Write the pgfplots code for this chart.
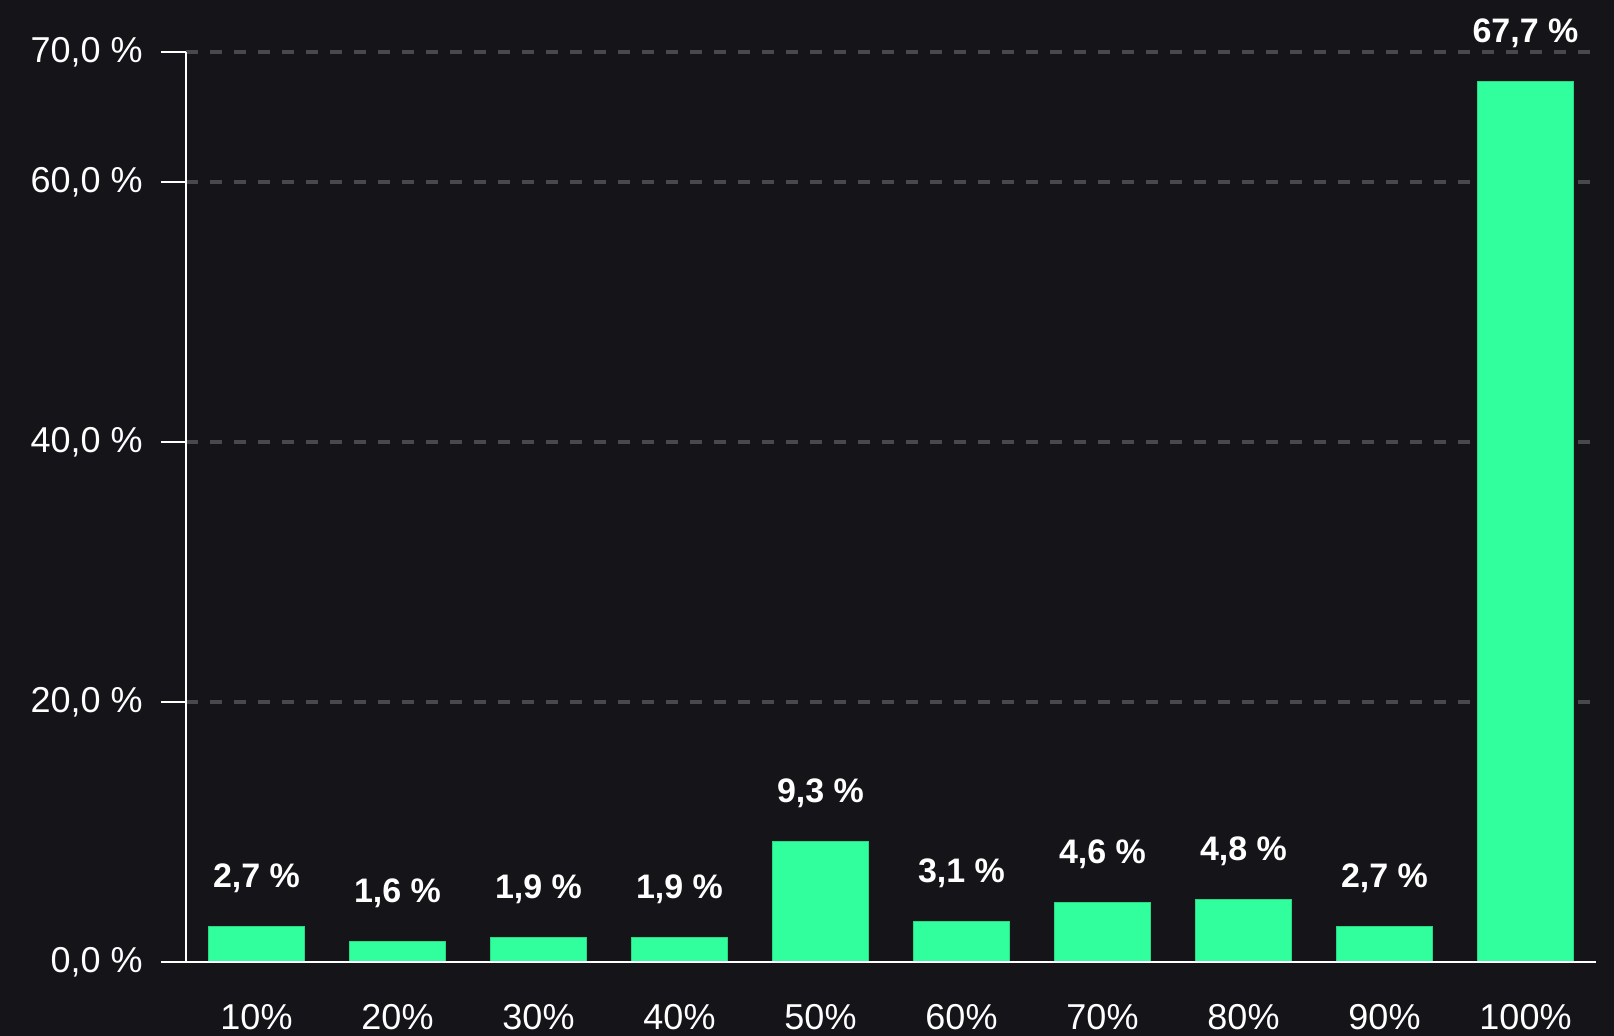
\documentclass[border=0pt]{standalone}
\usepackage{fontspec}
\setmainfont{Liberation Sans}
\usepackage{pgfplots}
\pgfplotsset{compat=1.18}
\definecolor{bg}{HTML}{141419}
\definecolor{barc}{HTML}{31FF9E}
\definecolor{gridc}{HTML}{48484E}

\begin{document}
\begin{tikzpicture}[x=1pt,y=1pt]
% background, same proportions as the reference (1 px = 0.5 pt)
\path[use as bounding box, fill=bg] (-93,-37) rectangle (714,481);
\begin{axis}[
  at={(0,0)}, anchor=south west,
  width=705pt, height=455pt, scale only axis,
  xmin=-0.5, xmax=9.5, ymin=0, ymax=70,
  clip=false,
  axis lines*=left,
  axis line style={white, line width=1pt},
  ybar, bar width=48pt,
  xtick={0,...,9},
  xticklabels={10\%,20\%,30\%,40\%,50\%,60\%,70\%,80\%,90\%,100\%},
  x tick style={draw=none},
  xticklabel style={anchor=base, yshift=-21.5pt, text=white, font=\fontsize{18}{20}\selectfont},
  ytick={20,40,60,70},
  yticklabel={\pgfmathprintnumber[fixed,fixed zerofill,precision=1,use comma,assume math mode=true]{\tick}~\%},
  extra y ticks={0},
  extra y tick style={grid=none, yticklabel={0,0~\%}},
  yticklabel style={anchor=east, inner sep=0pt, xshift=-9pt, text=white, font=\fontsize{18}{20}\selectfont},
  y tick style={white, line width=1pt},
  tick align=outside,
  major tick length=12.5pt,
  ymajorgrids,
  grid style={gridc, line width=2pt, dash pattern=on 6pt off 6pt},
  nodes near coords={\pgfmathprintnumber[fixed,fixed zerofill,precision=1,use comma,assume math mode=true]{\pgfplotspointmeta}~\%},
  every node near coord/.append style={anchor=base, yshift=19.5pt, text=white, font=\bfseries\fontsize{17}{20}\selectfont},
]
\addplot[fill=barc, draw=barc!85!black, line width=0.5pt] coordinates {
  (0,2.7) (1,1.6) (2,1.9) (3,1.9) (4,9.3) (5,3.1) (6,4.6) (7,4.8) (8,2.7) (9,67.7)
};
% baseline drawn again above the bars
\draw[white, line width=1pt] (axis cs:-0.5,0) -- (axis cs:9.5,0);
\end{axis}
\end{tikzpicture}
\end{document}
